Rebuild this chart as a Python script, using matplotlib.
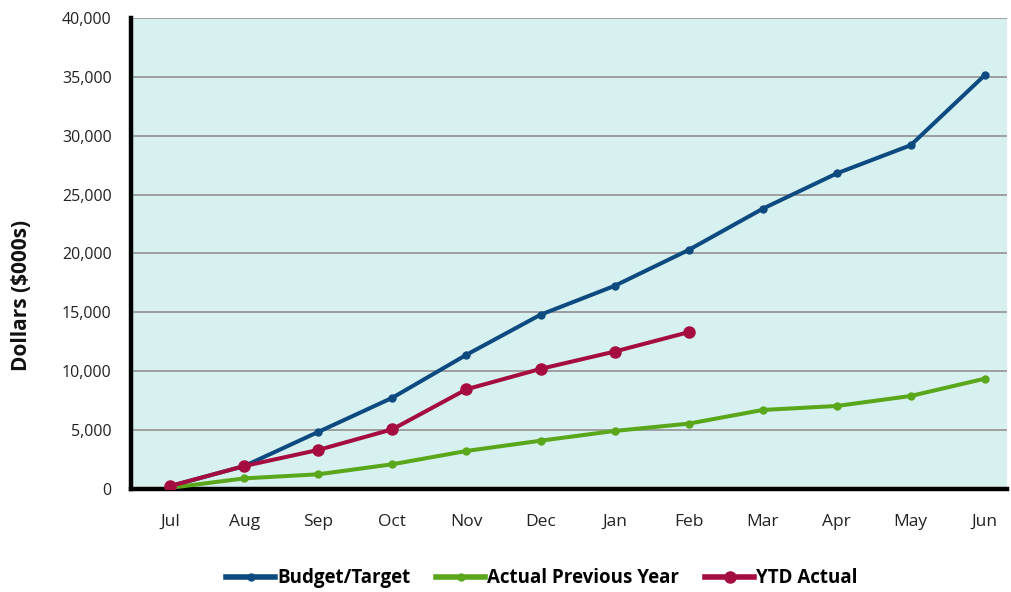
import matplotlib
matplotlib.use("Agg")
import matplotlib.pyplot as plt
from matplotlib.ticker import FuncFormatter

months = ["Jul", "Aug", "Sep", "Oct", "Nov", "Dec", "Jan", "Feb", "Mar", "Apr", "May", "Jun"]
budget_target = [250, 1950, 4850, 7750, 11400, 14800, 17250, 20300, 23800, 26800, 29200, 35150]
actual_prev_year = [100, 900, 1250, 2100, 3230, 4100, 4930, 5550, 6710, 7050, 7900, 9370]
ytd_actual = [250, 1950, 3320, 5070, 8470, 10200, 11670, 13320]

plt.rcParams['font.family'] = ['Open Sans', 'DejaVu Sans']

fig = plt.figure(figsize=(10.11, 5.92), dpi=100)
ax = fig.add_axes([0.1296, 0.174, 0.8665, 0.7956])
ax.set_facecolor('#D7F0F0')

x = list(range(len(months)))
ax.plot(x, budget_target, color='#0C4A80', lw=2.9, marker='o', ms=5, label='Budget/Target', zorder=3)
ax.plot(x, actual_prev_year, color='#5AA71C', lw=2.9, marker='o', ms=5, label='Actual Previous Year', zorder=3)
ax.plot(x[:len(ytd_actual)], ytd_actual, color='#A50D40', lw=2.9, marker='o', ms=8, label='YTD Actual', zorder=4)

ax.set_ylim(0, 40000)
ax.set_yticks(range(0, 40001, 5000))
ax.yaxis.set_major_formatter(FuncFormatter(lambda v, p: f"{int(v):,}"))
ax.set_xlim(-0.53, 11.3)
ax.set_xticks(x)
ax.set_xticklabels(months)
ax.grid(axis='y', color='#999999', lw=1.3, zorder=1)
ax.set_axisbelow(True)

for s in ['top', 'right']:
    ax.spines[s].set_visible(False)
ax.spines['left'].set_linewidth(3.2)
ax.spines['bottom'].set_linewidth(3.2)
ax.spines['left'].set_color('black')
ax.spines['bottom'].set_color('black')

ax.tick_params(axis='y', length=0, pad=14, labelsize=11.5, labelcolor='#222222')
ax.tick_params(axis='x', length=0, pad=18, labelsize=12.5, labelcolor='#222222')

ax.set_ylabel('Dollars ($000s)', fontsize=15, fontweight='bold', color='#111111')
ax.yaxis.set_label_coords(-0.113, 0.41)

leg = fig.legend(loc='center', bbox_to_anchor=(0.536, 0.023), ncol=3, frameon=False,
                 prop={'weight': 'bold', 'size': 13.5}, handlelength=2.6, columnspacing=1.4,
                 handletextpad=0.1)
for line in leg.get_lines():
    line.set_linewidth(4)

fig.savefig('out.png', dpi=100)
